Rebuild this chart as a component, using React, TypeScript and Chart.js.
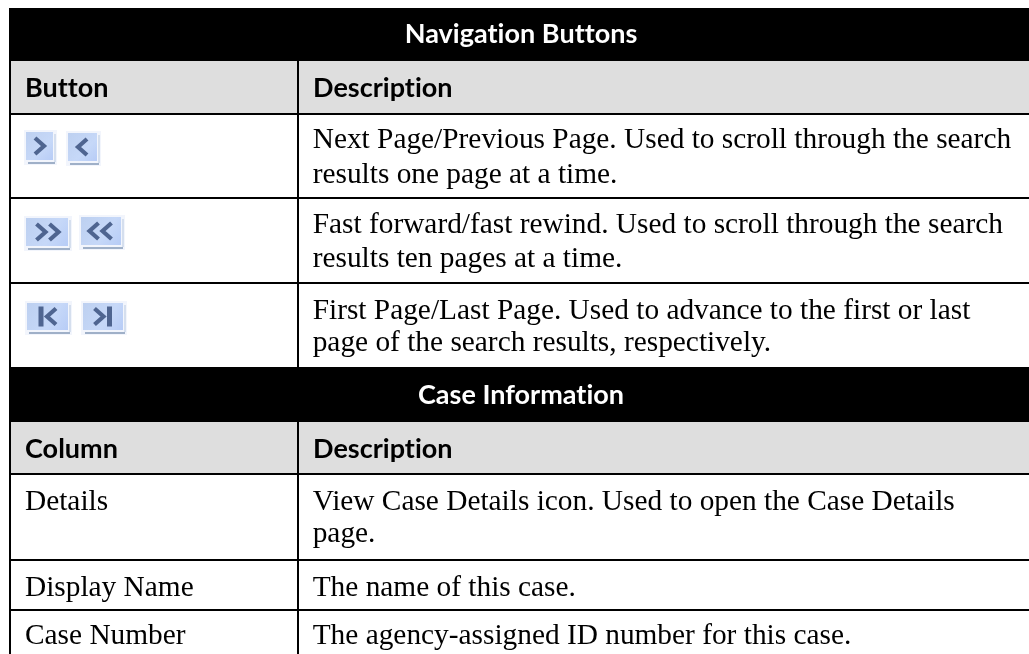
import React, { useEffect, useRef } from "react";
import { Chart, registerables } from "chart.js";

Chart.register(...registerables);

const W = 1029;
const H = 654;

// Table text
const sectionTitles = ["Navigation Buttons", "Case Information"];
const navHeaders = ["Button", "Description"];
const caseHeaders = ["Column", "Description"];
const navDescriptions = [
  ["Next Page/Previous Page. Used to scroll through the search", "results one page at a time."],
  ["Fast forward/fast rewind. Used to scroll through the search", "results ten pages at a time."],
  ["First Page/Last Page. Used to advance to the first or last", "page of the search results, respectively."],
];
const caseColumns = ["Details", "Display Name", "Case Number"];
const caseDescriptions = [
  ["View Case Details icon. Used to open the Case Details", "page."],
  ["The name of this case."],
  ["The agency-assigned ID number for this case."],
];
const buttonGlyphs = [
  [">", "<"],
  [">>", "<<"],
  ["|<", ">|"],
];

const BODY = '29.35px "Liberation Serif"';
const HEAD = 'bold 27px Lato';

const tablePlugin = {
  id: "tablePlugin",
  beforeDraw(chart: any) {
    const { ctx, scales } = chart;
    const X = (v: number) => scales.x.getPixelForValue(v);
    const Y = (v: number) => scales.y.getPixelForValue(v);
    const L = 9, M = 297, R = 1029, B = 654;
    const rect = (x0: number, y0: number, x1: number, y1: number, c: any) => {
      ctx.fillStyle = c;
      ctx.fillRect(X(x0), Y(y0), X(x1) - X(x0), Y(y1) - Y(y0));
    };
    const text = (s: string, x: number, y: number, font: string, c: string, align: CanvasTextAlign = "left") => {
      ctx.font = font;
      ctx.fillStyle = c;
      ctx.textAlign = align;
      ctx.textBaseline = "alphabetic";
      // a tiny letter spacing switches off the "ti" ligature of the heading font
      ctx.letterSpacing = font === HEAD ? "0.02px" : "0px";
      ctx.fillText(s, X(x), Y(y));
    };
    ctx.save();
    rect(0, 0, W, H, "#ffffff");

    // black section bands and grey header rows
    rect(L, 8, R, 61, "#000000");
    rect(L, 61, R, 113, "#dedede");
    rect(L, 367, R, 422, "#000000");
    rect(L, 422, R, 473, "#dedede");

    // rules
    for (const y of [113, 197, 282, 473, 559, 609]) rect(L, y, R, y + 2, "#000000");
    rect(L, 8, L + 2, B, "#000000");
    rect(M, 61, M + 2, 367, "#000000");
    rect(M, 422, M + 2, B, "#000000");

    // titles
    text(sectionTitles[0], 521, 43, HEAD, "#ffffff", "center");
    text(sectionTitles[1], 521, 404, HEAD, "#ffffff", "center");
    text(navHeaders[0], 25, 97, HEAD, "#000000");
    text(navHeaders[1], 313, 97, HEAD, "#000000");
    text(caseHeaders[0], 25, 458, HEAD, "#000000");
    text(caseHeaders[1], 313, 458, HEAD, "#000000");

    // description text
    const navY = [148, 233, 319];
    const navGap = [35, 34, 32];
    navDescriptions.forEach((lines, i) =>
      lines.forEach((s, j) => text(s, 312.7, navY[i] + j * navGap[i], BODY, "#000000")),
    );
    const caseY = [510, 596, 644];
    caseColumns.forEach((s, i) => text(s, 25, caseY[i], BODY, "#000000"));
    caseDescriptions.forEach((lines, i) =>
      lines.forEach((s, j) => text(s, 312.7, caseY[i] + j * 32, BODY, "#000000")),
    );

    // buttons
    const boxes = [
      [[26, 132, 53, 160], [68, 133, 97, 161]],
      [[26, 218, 68, 246], [81, 217, 121, 245]],
      [[27, 303, 68, 330], [83, 303, 123, 330]],
    ];
    ctx.filter = "blur(0.6px)";
    boxes.forEach((row, i) =>
      row.forEach((b, k) => {
        const [x0, y0, x1, y1] = b;
        const px0 = X(x0), py0 = Y(y0), px1 = X(x1), py1 = Y(y1);
        ctx.fillStyle = "#f2f5fc";
        ctx.fillRect(px0 - 2, py0 - 2, px1 - px0 + 6, py1 - py0 + 7);
        const g = ctx.createLinearGradient(px0, py0, px1, py1);
        g.addColorStop(0, "#bdd0f0");
        g.addColorStop(0.6, "#c6d8f8");
        g.addColorStop(1, "#b7ccf6");
        ctx.fillStyle = g;
        ctx.fillRect(px0, py0, px1 - px0, py1 - py0);
        ctx.fillStyle = "#d5dfee";
        ctx.fillRect(px1 + 1, py0 + 2, 2, py1 - py0);
        ctx.fillStyle = "#9fb0c8";
        ctx.fillRect(px0 + 2, py1 + 2, px1 - px0, 2);
        // glyph
        const glyph = buttonGlyphs[i][k];
        const cx = (px0 + px1) / 2;
        const cy = (py0 + py1) / 2;
        ctx.strokeStyle = "#4f6590";
        ctx.fillStyle = "#4f6590";
        ctx.lineWidth = 4.2;
        const chev = (x: number, dir: number) => {
          ctx.beginPath();
          ctx.moveTo(x - dir * 4.5, cy - 8);
          ctx.lineTo(x + dir * 4.5, cy);
          ctx.lineTo(x - dir * 4.5, cy + 8);
          ctx.stroke();
        };
        if (glyph === ">") chev(cx, 1);
        if (glyph === "<") chev(cx, -1);
        if (glyph === ">>") { chev(cx - 6, 1); chev(cx + 7, 1); }
        if (glyph === "<<") { chev(cx - 7, -1); chev(cx + 6, -1); }
        if (glyph === "|<") { ctx.fillRect(cx - 9, cy - 10, 5, 20); chev(cx + 4, -1); }
        if (glyph === ">|") { chev(cx - 4, 1); ctx.fillRect(cx + 4, cy - 10, 5, 20); }
      }),
    );
    ctx.filter = "none";
    ctx.restore();
  },
};

export default function App() {
  const ref = useRef<HTMLCanvasElement>(null);
  useEffect(() => {
    const chart = new Chart(ref.current!, {
      type: "scatter",
      data: { datasets: [{ data: [] }] },
      options: {
        animation: false,
        responsive: false,
        layout: { padding: 0 },
        plugins: { legend: { display: false }, tooltip: { enabled: false } },
        scales: {
          x: { type: "linear", min: 0, max: W, display: false },
          y: { type: "linear", min: 0, max: H, reverse: true, display: false },
        },
      },
      plugins: [tablePlugin],
    } as any);
    return () => chart.destroy();
  }, []);
  return (
    <div style={{ position: "absolute", left: 0, top: 0, width: W, height: H, background: "#fff" }}>
      <canvas ref={ref} width={W} height={H} style={{ display: "block", width: W, height: H }} />
    </div>
  );
}
